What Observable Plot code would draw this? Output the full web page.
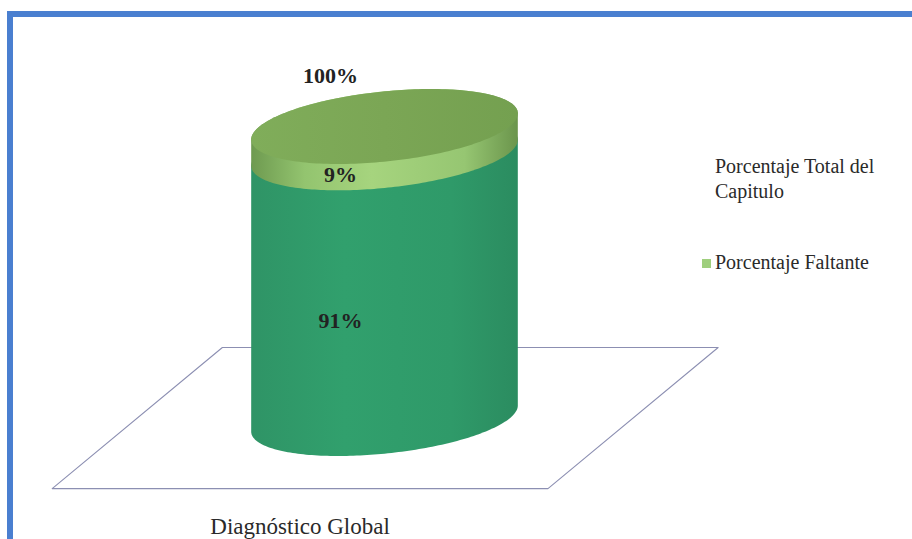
<!DOCTYPE html>
<html><head><meta charset="utf-8">
<script src="https://cdn.jsdelivr.net/npm/d3@7"></script>
<script src="https://cdn.jsdelivr.net/npm/@observablehq/plot@0.6"></script>
<style>
html,body{margin:0;padding:0;background:#fff;}
body{width:912px;height:539px;overflow:hidden;position:relative;font-family:"Times New Roman","Liberation Serif",Tinos,"DejaVu Serif","Noto Serif",serif;color:#222;}
#chart{position:absolute;left:0;top:0;}
#frame{position:absolute;left:7px;top:11px;width:920px;height:560px;border-top:6px solid #4a7fd0;border-left:6px solid #4a7fd0;box-sizing:border-box;}
.lg{position:absolute;font-size:20px;line-height:25px;white-space:nowrap;color:#2a2a2a;}
.sw{display:inline-block;width:9px;height:9px;background:#9fcf7d;margin-right:4px;vertical-align:1px;}
</style></head><body>
<div id="chart"></div>
<div id="frame"></div>
<div class="lg" id="lg1" style="left:715px;top:154px;"></div>
<div class="lg" id="lg2" style="left:702px;top:250px;"></div>
<script>
// ---- data ----
const categories = ["Diagnóstico Global"];
const seriesNames = ["Porcentaje Total del Capitulo", "Porcentaje Faltante"];
const completedValues = [91];
const missingValues = [9];
const totalValues = [100];

// ---- geometry (styling constants) ----
const SERIF = '"Times New Roman","Liberation Serif",Tinos,"DejaVu Serif","Noto Serif",serif';
const RX = 134, RY = 35, PHI = -6 * Math.PI / 180; // ellipse radii (px) and tilt
const KY = 2.92;       // px per percentage point (matches y scale range)
const floorX = [-1.21, 2.49, 1.22, -2.48, -1.21];
const floorY = [24.3, 24.3, -24, -24, 24.3];

const t0 = Math.atan2(-RY * Math.sin(PHI), RX * Math.cos(PHI));
function arc(v, a, b, n = 120) {
  const pts = [];
  for (let i = 0; i <= n; i++) {
    const t = a + (b - a) * i / n;
    const xp = RX * Math.cos(t) * Math.cos(PHI) - RY * Math.sin(t) * Math.sin(PHI);
    const yp = RX * Math.cos(t) * Math.sin(PHI) + RY * Math.sin(t) * Math.cos(PHI);
    pts.push({x: xp / RX, y: v - yp / KY});
  }
  return pts;
}
const front = v => arc(v, t0, t0 + Math.PI);
const back = v => arc(v, t0 + Math.PI, t0 + 2 * Math.PI);

const c = completedValues[0], m = missingValues[0], tot = totalValues[0];
const bodyPoly = [...front(0), ...back(c)];
const bandPoly = [...front(c), ...back(c + m)];
const topPoly = arc(tot, 0, 2 * Math.PI, 200);
const floorPoly = floorX.map((x, i) => ({x, y: floorY[i]}));

const labels = [
  {x: 0, y: c / 2, text: c + "%", dx: -44, dy: RY},
  {x: 0, y: c + m / 2, text: m + "%", dx: -44, dy: RY},
  {x: 0, y: tot, text: tot + "%", dx: -54, dy: -51}
];
const catLabel = categories.map(k => ({x: (floorX[2] + floorX[3]) / 2, y: floorY[2], text: k}));

function defs() {
  const d = d3.create("svg:defs");
  const grad = (id, stops) => {
    const g = d.append("linearGradient").attr("id", id).attr("x1", 0).attr("x2", 1).attr("y1", 0).attr("y2", 0);
    stops.forEach(([o, col]) => g.append("stop").attr("offset", o).attr("stop-color", col));
  };
  grad("gBody", [[0, "#2f9466"], [0.35, "#31a06d"], [0.75, "#2f9a69"], [1, "#2b8c60"]]);
  grad("gBand", [[0, "#6e9a50"], [0.2, "#93c46f"], [0.45, "#a6d47e"], [0.8, "#96c672"], [1, "#6b954c"]]);
  grad("gTop", [[0, "#80ad5a"], [0.5, "#7ba655"], [1, "#74a050"]]);
  return d.node();
}

const chart = Plot.plot({
  width: 912, height: 539,
  margin: 0,
  style: {fontFamily: SERIF},
  x: {domain: [-1, 1], range: [250, 518], axis: null},
  y: {domain: [0, 100], range: [418, 126], axis: null},
  marks: [
    defs,
    Plot.line(floorPoly, {x: "x", y: "y", stroke: "#8c8fb2", strokeWidth: 1.1}),
    Plot.line(bodyPoly, {x: "x", y: "y", fill: "url(#gBody)", stroke: "none"}),
    Plot.line(bandPoly, {x: "x", y: "y", fill: "url(#gBand)", stroke: "none"}),
    Plot.line(topPoly, {x: "x", y: "y", fill: "url(#gTop)", stroke: "none"}),
    ...labels.map(l => Plot.text([l], {x: "x", y: "y", text: "text", dx: l.dx, dy: l.dy,
      fontSize: 22, fontWeight: "bold", fontFamily: SERIF, fill: "#222"})),
    Plot.text(catLabel, {x: "x", y: "y", text: "text", dy: 38, fontSize: 23,
      fontFamily: SERIF, fill: "#2a2a2a"})
  ]
});
document.getElementById("chart").appendChild(chart);

document.getElementById("lg1").innerHTML = "Porcentaje Total del<br>Capitulo";
document.getElementById("lg2").innerHTML = '<span class="sw"></span>' + seriesNames[1];
</script>
</body></html>
